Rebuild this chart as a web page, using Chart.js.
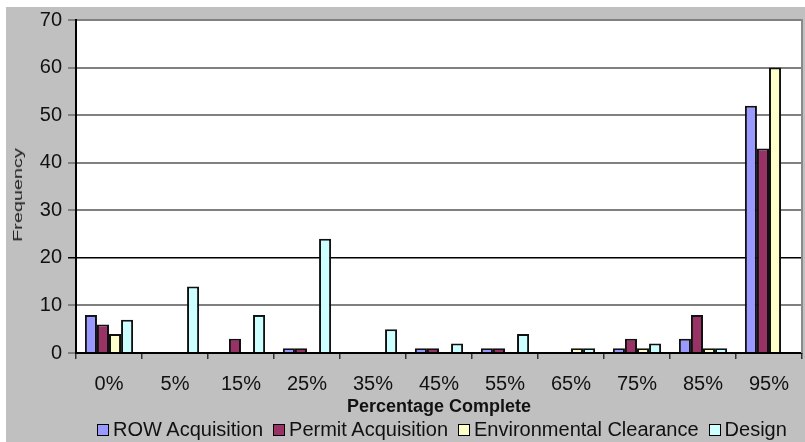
<!DOCTYPE html>
<html>
<head>
<meta charset="utf-8">
<script src="https://cdn.jsdelivr.net/npm/chart.js@4"></script>
<style>
  body{margin:0;background:#fff}
  #wrap{position:relative;width:805px;height:442px;font-family:"Liberation Sans",Arial,sans-serif}
  #ytitle{position:absolute;left:18px;top:195px;font-size:12px;color:#222;white-space:nowrap;
    transform:translate(-50%,-50%) rotate(-90deg) scaleX(1.65)}
  #legend{position:absolute;left:97px;top:418px;display:flex;align-items:center;gap:10px;font-size:20px;color:#111;white-space:nowrap}
  .li{display:flex;align-items:center;gap:4px}
  .lb{width:10px;height:10px;border:1.5px solid #000}
</style>
</head>
<body>
<div id="wrap">
  <canvas id="c" width="805" height="442"></canvas>
  <div id="ytitle">Frequency</div>
  <div id="legend"></div>
</div>
<script>
const categories=['0%','5%','15%','25%','35%','45%','55%','65%','75%','85%','95%'];
const rowAcq   =[8,0,0,1,0,1,1,0,1,3,52];
const permitAcq=[6,0,3,1,0,1,1,0,3,8,43];
const envClear =[4,0,0,0,0,0,0,1,1,1,60];
const design   =[7,14,8,24,5,2,4,1,2,1,0];
const seriesNames=['ROW Acquisition','Permit Acquisition','Environmental Clearance','Design'];
const seriesColors=['#9999ff','#993366','#ffffcc','#ccffff'];
const yTicks=[0,10,20,30,40,50,60,70];

const FONT='"Liberation Sans", Arial, sans-serif';

// grey frame, white plot area, right border
const frame={
  id:'frame',
  beforeDraw(chart){
    const {ctx,chartArea:a}=chart;
    ctx.save();
    ctx.fillStyle='#fff';ctx.fillRect(0,0,chart.width,chart.height);
    ctx.fillStyle='#c0c0c0';ctx.fillRect(6,7,chart.width-6,chart.height-7);
    ctx.fillStyle='#fff';ctx.fillRect(a.left,a.top,a.right-a.left,a.bottom-a.top);
    ctx.restore();
  },
  afterDraw(chart){
    const {ctx,chartArea:a}=chart;
    ctx.save();
    ctx.strokeStyle='#8a8a8a';ctx.lineWidth=2;
    ctx.beginPath();ctx.moveTo(a.right,a.top-1);ctx.lineTo(a.right,a.bottom);ctx.stroke();
    ctx.restore();
  }
};

const sets=[rowAcq,permitAcq,envClear,design].map((d,i)=>({
  label:seriesNames[i],data:d,backgroundColor:seriesColors[i],
  borderColor:'#111',borderWidth:2,categoryPercentage:0.73,barPercentage:1
}));

new Chart(document.getElementById('c'),{
  type:'bar',
  data:{labels:categories,datasets:sets},
  plugins:[frame],
  options:{
    responsive:false,animation:false,
    layout:{padding:{left:6,top:20,right:3,bottom:0}},
    plugins:{legend:{display:false},tooltip:{enabled:false}},
    scales:{
      x:{
        afterFit(s){s.height=89;},
        grid:{drawOnChartArea:false,tickLength:6,color:'#333',lineWidth:1.5},
        border:{color:'#000',width:2},
        ticks:{color:'#111',font:{family:FONT,size:20},padding:13},
        title:{display:true,text:'Percentage Complete',color:'#111',font:{family:FONT,size:18,weight:'bold'},padding:{top:0,bottom:24}}
      },
      y:{
        min:0,max:70,
        afterFit(s){s.width=70;},
        afterBuildTicks(s){s.ticks=yTicks.map(v=>({value:v}));},
        grid:{tickLength:8,
          color:c=>c.tick&&c.tick.value===20?'#000':'#808080',
          lineWidth:c=>c.tick&&c.tick.value===20?1.5:2},
        border:{color:'#000',width:2},
        ticks:{color:'#111',font:{family:FONT,size:20},padding:6}
      }
    }
  }
});

document.getElementById('legend').innerHTML=seriesNames.map((n,i)=>
  `<div class="li"><span class="lb" style="background:${seriesColors[i]}"></span><span>${n}</span></div>`).join('');
</script>
</body>
</html>
